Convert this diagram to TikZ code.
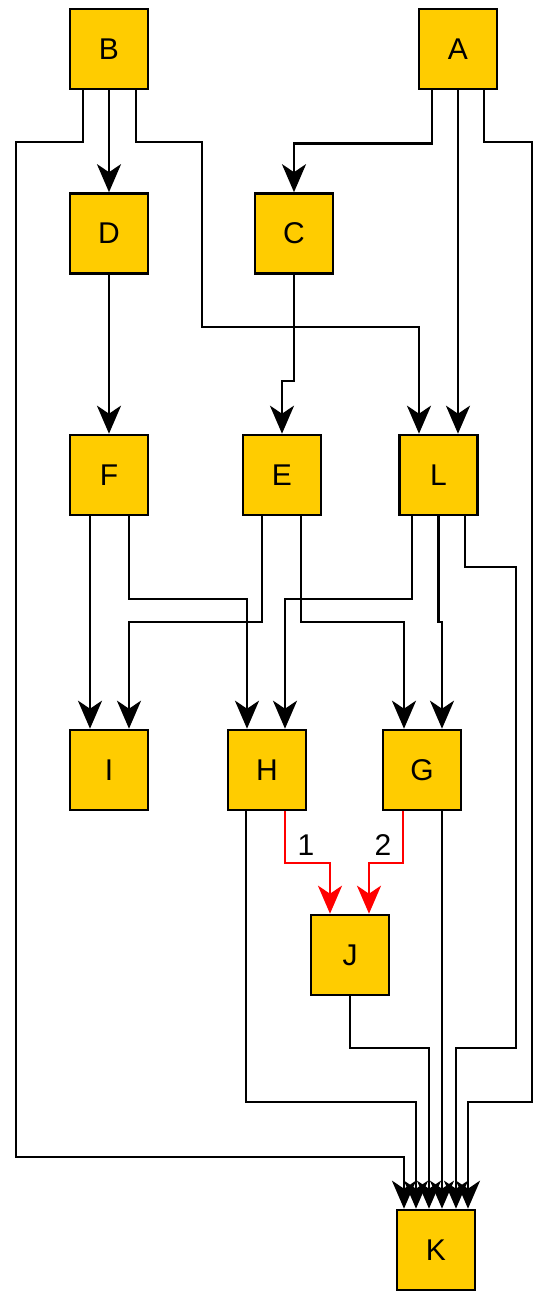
\documentclass[tikz,border=0pt]{standalone}
\usepackage{fontspec}
\setmainfont{Liberation Sans}
\usetikzlibrary{arrows.meta}
\definecolor{boxfill}{HTML}{FFCC00}
\definecolor{redline}{HTML}{FF0000}
\tikzset{
  box/.style={draw=black, line width=2.6pt, fill=boxfill, minimum width=78pt, minimum height=80pt, inner sep=0pt, font=\fontsize{30}{33}\selectfont},
  conn/.style={draw=black, line width=2.6pt, -{Stealth[length=28pt,width=24pt,inset=8pt]}},
  redconn/.style={draw=redline, line width=2.6pt, -{Stealth[length=28pt,width=24pt,inset=8pt]}},
  elabel/.style={font=\fontsize{30}{33}\selectfont, inner sep=1pt}
}
\begin{document}
\begin{tikzpicture}[x=1pt,y=-1pt]
\useasboundingbox (0,0) rectangle (550,1302);
% nodes
\node[box] (B) at (109,49) {B};
\node[box] (A) at (458,49) {A};
\node[box] (D) at (109,233.5) {D};
\node[box] (C) at (294,233.5) {C};
\node[box] (F) at (109,475) {F};
\node[box] (E) at (282,475) {E};
\node[box] (L) at (438.5,475) {L};
\node[box] (I) at (109,770) {I};
\node[box] (H) at (267,770) {H};
\node[box] (G) at (422,770) {G};
\node[box] (J) at (350,955) {J};
\node[box] (K) at (436,1250) {K};
% connectors from B
\draw[conn] (B.south) -- (D.north);
\draw[conn] ([xshift=-26pt]B.south) |- (16,142) |- (404,1157) -- ([xshift=-32pt]K.north);
\draw[conn] ([xshift=27pt]B.south) |- (202,142) |- (419,327) -- ([xshift=-19.5pt]L.north);
% connectors from A
\draw[conn] ([xshift=-26pt]A.south) -- ++(0,53) -| (C.north);
\draw[conn] (A.south) -- ([xshift=19.5pt]L.north);
\draw[conn] ([xshift=26pt]A.south) |- (532,142) |- (468,1102) -- ([xshift=32pt]K.north);
% C, D
\draw[conn] (C.south) |- (282,381) -- (E.north);
\draw[conn] (D.south) -- (F.north);
% F
\draw[conn] ([xshift=-19pt]F.south) -- ([xshift=-19pt]I.north);
\draw[conn] ([xshift=20pt]F.south) |- (247,599) -- ([xshift=-20pt]H.north);
% E
\draw[conn] ([xshift=-20pt]E.south) |- (129,622) -- ([xshift=20pt]I.north);
\draw[conn] ([xshift=19pt]E.south) |- (404,622) -- ([xshift=-18pt]G.north);
% L
\draw[conn] ([xshift=-26.5pt]L.south) |- (285,599) -- ([xshift=18pt]H.north);
\draw[conn] (L.south) |- (442,622) -- ([xshift=20pt]G.north);
\draw[conn] ([xshift=26.5pt]L.south) |- (516,567) |- (456,1048) -- ([xshift=20pt]K.north);
% H
\draw[conn] ([xshift=-21pt]H.south) |- (416,1102) -- ([xshift=-20pt]K.north);
\draw[redconn] ([xshift=18pt]H.south) |- (330,863) -- ([xshift=-20pt]J.north);
% G
\draw[redconn] ([xshift=-19pt]G.south) |- (369,863) -- ([xshift=19pt]J.north);
\draw[conn] ([xshift=20pt]G.south) -- ([xshift=6pt]K.north);
% J
\draw[conn] (J.south) |- (429,1048) -- ([xshift=-7pt]K.north);
% labels
\node[elabel] (lab1) at (306,845) {1};
\node[elabel] (lab2) at (383,845) {2};
\end{tikzpicture}
\end{document}
